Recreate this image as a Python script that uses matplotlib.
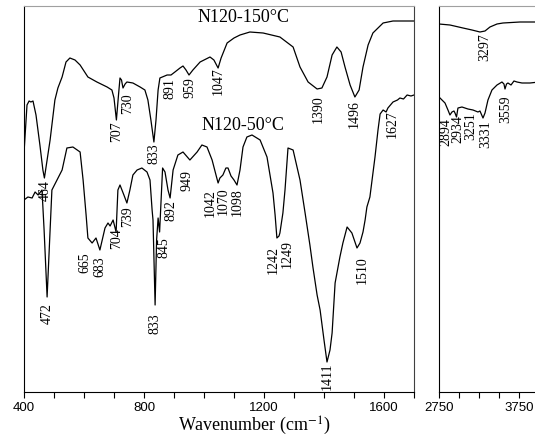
import matplotlib
matplotlib.use("Agg")
import matplotlib.pyplot as plt
import numpy as np

# Spektren (Wellenzahl in cm-1, Transmission in willk. Einheiten)
wn_150 = [400, 410, 417, 423, 430, 440, 453, 463, 468, 477, 487, 503, 513, 527, 540, 553, 570, 587,
          613, 643, 677, 693, 700, 708, 715, 720, 725, 730, 737, 743, 763, 787, 803, 813, 823, 833,
          840, 847, 853, 877, 890, 903, 920, 930, 940, 950, 963, 987, 1020, 1033, 1047, 1057, 1077,
          1100, 1120, 1153, 1197, 1253, 1297, 1320, 1347, 1377, 1393, 1410, 1427, 1443, 1457, 1470,
          1487, 1503, 1517, 1530, 1547, 1563, 1597, 1630, 1670, 1700]
t_150 = [239, 287, 291, 290, 291, 277, 247, 222, 214, 232, 252, 292, 304, 315, 330, 334, 332, 327,
         315, 310, 305, 302, 294, 272, 297, 314, 312, 304, 308, 310, 309, 305, 302, 292, 272, 250,
         272, 302, 314, 317, 317, 320, 324, 326, 322, 317, 322, 330, 335, 332, 324, 334, 349,
         354, 357, 360, 359, 355, 345, 325, 310, 303, 304, 315, 337, 345, 340, 325,
         307, 295, 302, 325, 347, 359, 369, 371, 371, 371]

wn_50 = [400, 413, 427, 437, 447, 460, 467, 477, 487, 493, 510, 527, 543, 563, 587, 597, 607, 613,
         627, 640, 653, 670, 680, 687, 697, 707, 713, 720, 733, 743, 753, 763, 777, 793, 810, 820,
         827, 830, 837, 842, 847, 852, 857, 862, 870, 880, 887, 897, 913, 930, 953, 977, 993, 1010,
         1027, 1040, 1047, 1053, 1063, 1073, 1080, 1090, 1100, 1110, 1120, 1130, 1143, 1160, 1187,
         1210, 1230, 1237, 1243, 1250, 1253, 1263, 1270, 1280, 1297, 1320, 1337, 1353, 1363, 1377,
         1387, 1400, 1410, 1420, 1427, 1437, 1453, 1463, 1477, 1493, 1510, 1520, 1530, 1537, 1543,
         1553, 1570, 1580, 1587, 1597, 1607, 1613, 1630, 1645, 1653, 1665, 1677, 1690, 1700]
t_50 = [192, 195, 194, 200, 197, 202, 162, 95, 162, 202, 212, 222, 244, 245, 240, 212, 177, 154,
        149, 154, 142, 164, 169, 166, 172, 160, 202, 207, 197, 189, 202, 217, 222, 224, 220, 212,
        182, 172, 87, 152, 174, 160, 192, 224, 220, 202, 194, 222, 237, 240, 232, 240, 247, 245,
        232, 217, 209, 214, 217, 224, 224, 216, 212, 207, 222, 245, 255, 257, 252,
        235, 199, 177, 154, 156, 159, 179, 202, 244, 242, 212, 179, 147, 125, 97,
        82, 52, 30, 42, 59, 109, 135, 149, 165, 159, 144, 149, 160, 172, 185,
        195, 235, 262, 278, 282, 280, 284, 290, 292, 294, 293, 297, 296, 297]

wn_150_r = [2750, 2887, 3050, 3162, 3262, 3325, 3387, 3475, 3550, 3762, 4000]
t_150_r = [368, 367, 364, 362, 360, 361, 365, 368, 369, 370, 370]

wn_50_r = [2750, 2825, 2862, 2887, 2912, 2937, 2950, 2969, 2987, 3037, 3112, 3175, 3237, 3262,
           3300, 3325, 3362, 3412, 3475, 3537, 3562, 3575, 3594, 3612, 3650, 3687, 3725, 3787,
           3887, 4000]
t_50_r = [295, 289, 282, 277, 280, 281, 279, 275, 284, 285, 283, 282, 280, 281,
          274, 279, 292, 302, 307, 310, 308, 303, 308, 309, 307, 311, 310, 309,
          309, 310]

# Peak-Beschriftungen: Text, Position (cm-1), Oberkante (willk. Einheiten)
peaks_150 = [("464", 470, 212), ("707", 708, 271), ("730", 745, 299), ("833", 833, 249),
             ("891", 887, 314), ("959", 953, 315), ("1047", 1047, 325), ("1390", 1380, 297),
             ("1496", 1500, 292)]
peaks_50 = [("472", 477, 89), ("665", 604, 140), ("683", 654, 136), ("704", 710, 164),
            ("739", 747, 186), ("833", 837, 79), ("845", 865, 155), ("892", 890, 192),
            ("949", 943, 222), ("1042", 1020, 203), ("1070", 1064, 205), ("1098", 1112, 204),
            ("1242", 1232, 146), ("1249", 1276, 152), ("1411", 1410, 30), ("1510", 1527, 136),
            ("1627", 1627, 282)]
peaks_150_r = [("3297", 3325, 359)]
peaks_50_r = [("2894", 2835, 274), ("2934", 2990, 277), ("3251", 3150, 280),
              ("3331", 3340, 272), ("3559", 3587, 297)]

plt.rcParams['mathtext.fontset'] = 'stix'
serif = ['Liberation Serif', 'DejaVu Serif']
sans = ['Liberation Sans', 'DejaVu Sans']

fig = plt.figure(figsize=(5.35, 4.37), dpi=100)
ax1 = fig.add_axes([24/535, 45/437, 390/535, 386/437])
ax2 = fig.add_axes([439/535, 45/437, 100/535, 386/437])

ax1.plot(wn_150, t_150, color='black', lw=0.9)
ax1.plot(wn_50, t_50, color='black', lw=0.9)
ax2.plot(wn_150_r, t_150_r, color='black', lw=0.9)
ax2.plot(wn_50_r, t_50_r, color='black', lw=0.9)

for ax, lista in [(ax1, peaks_150 + peaks_50), (ax2, peaks_150_r + peaks_50_r)]:
    for txt, x, y in lista:
        ax.text(x, y, txt, rotation=90, ha='center', va='top', fontsize=10, family=serif)

ax1.text(980, 374, "N120-150°C", ha='left', va='center', fontsize=13, family=serif)
ax1.text(993, 267, "N120-50°C", ha='left', va='center', fontsize=13, family=serif)

ax1.set_xlim(400, 1700)
ax2.set_xlim(2750, 4000)
ax1.set_xticks([400, 800, 1200, 1600])
ax1.set_xticks(np.arange(500, 1701, 100), minor=True)
ax2.set_xticks([2750, 3750])
ax2.set_xticks([3000, 3250, 3500, 4000], minor=True)

for ax in (ax1, ax2):
    ax.set_ylim(0, 386)
    ax.set_yticks([])
    ax.tick_params(axis='x', which='both', direction='out', length=4, width=0.8, pad=3,
                   labelsize=9.5)
    for lab in ax.get_xticklabels():
        lab.set_family(sans)
    for s in ['left', 'bottom', 'right']:
        ax.spines[s].set_linewidth(0.8)
    ax.spines['top'].set_color('#a0a0a0')
    ax.spines['top'].set_linewidth(0.8)
ax1.spines['right'].set_color('#404040')

fig.text(254/535, 1 - 426/437, r"Wavenumber (cm$^{-1}$)", ha='center', va='center',
         fontsize=13, family=serif)

fig.savefig('out.png', dpi=100)
